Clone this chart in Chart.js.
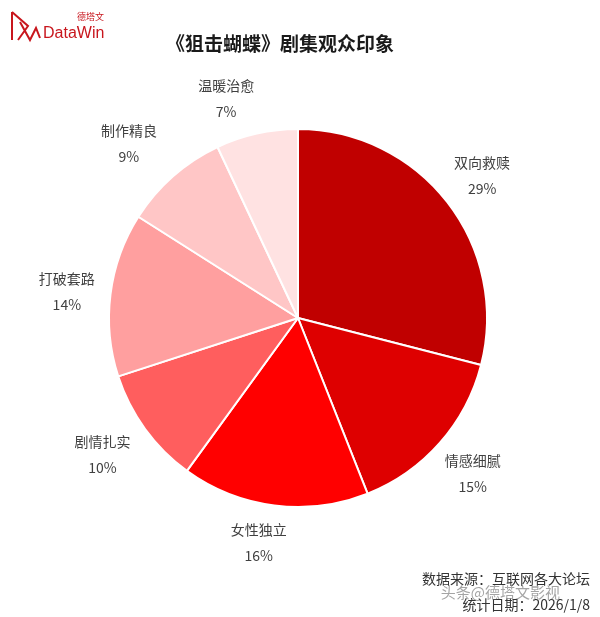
<!DOCTYPE html>
<html>
<head>
<meta charset="utf-8">
<script src="https://cdn.jsdelivr.net/npm/chart.js@4"></script>
<style>
  html, body { margin: 0; padding: 0; background: #fff; }
  #wrap { width: 600px; height: 617px; position: relative; }
</style>
</head>
<body>
<div id="wrap"><canvas id="chartImpresion" width="600" height="617"></canvas></div>
<script>
const categorias = ['双向救赎', '情感细腻', '女性独立', '剧情扎实', '打破套路', '制作精良', '温暖治愈'];
const porcentajes = [29, 15, 16, 10, 14, 9, 7];
const colores = ['#C00000', '#DE0000', '#FF0000', '#FF5E5E', '#FF9F9F', '#FFC6C6', '#FFE2E2'];
const titulo = '《狙击蝴蝶》剧集观众印象';
const fuente = '数据来源：互联网各大论坛';
const fecha = '统计日期：2026/1/8';

document.addEventListener('DOMContentLoaded', function() {

    const FONT = '"Noto Sans CJK SC", "Noto Sans", sans-serif';
    // pequeños ajustes de las etiquetas (px) para imitar la colocación original
    const ajustes = [[0, 0], [0, 2], [-10, -6], [-7, 0], [0, 3], [-15, 0], [-21, 8]];

    // etiquetas fuera de cada sector: nombre + porcentaje
    const etiquetas = {
        id: 'etiquetas',
        afterDatasetsDraw(chart) {
            const ctx = chart.ctx;
            const meta = chart.getDatasetMeta(0);
            ctx.save();
            ctx.fillStyle = '#404040';
            ctx.textAlign = 'center';
            ctx.textBaseline = 'middle';
            ctx.font = '14px ' + FONT;
            meta.data.forEach((arc, i) => {
                const p = arc.getProps(['x', 'y', 'startAngle', 'endAngle', 'outerRadius'], true);
                const mid = (p.startAngle + p.endAngle) / 2;
                const r = p.outerRadius + 44;
                const cx = p.x + Math.cos(mid) * r + ajustes[i][0];
                const cy = p.y + Math.sin(mid) * r + ajustes[i][1];
                ctx.fillText(categorias[i], cx, cy - 13);
                ctx.fillText(porcentajes[i] + '%', cx, cy + 13);
            });
            ctx.restore();
        }
    };

    const decoracion = {
        id: 'decoracion',
        afterDraw(chart) {
            const ctx = chart.ctx;
            ctx.save();
            // titulo
            ctx.fillStyle = '#1a1a1a';
            ctx.textAlign = 'center';
            ctx.textBaseline = 'middle';
            ctx.font = 'bold 19px ' + FONT;
            ctx.fillText(titulo, 280, 44);

            // logo
            ctx.strokeStyle = '#C8161D';
            ctx.lineWidth = 2;
            ctx.beginPath();
            ctx.moveTo(12, 12); ctx.lineTo(12, 40);
            ctx.moveTo(12, 12); ctx.lineTo(28, 26); ctx.lineTo(18, 40);
            ctx.moveTo(20, 22); ctx.lineTo(30, 40); ctx.lineTo(36, 28); ctx.lineTo(40, 38);
            ctx.stroke();
            ctx.fillStyle = '#C8161D';
            ctx.textAlign = 'left';
            ctx.font = '16px "Liberation Sans", Arial, sans-serif';
            ctx.fillText('DataWin', 43, 34);
            ctx.font = '9px ' + FONT;
            ctx.fillText('德塔文', 77, 17);

            // pie de fuente
            ctx.fillStyle = '#333';
            ctx.textAlign = 'right';
            ctx.font = '14px ' + FONT;
            ctx.fillText(fuente, 590, 579);
            ctx.fillText(fecha, 590, 605);
            ctx.fillStyle = 'rgba(90,90,90,0.55)';
            ctx.font = '15px ' + FONT;
            ctx.fillText('头条@德塔文影视', 560, 592);
            ctx.restore();
        }
    };

    const canvas = document.getElementById('chartImpresion');
    new Chart(canvas.getContext('2d'), {
        type: 'pie',
        data: {
            labels: categorias,
            datasets: [{
                data: porcentajes,
                backgroundColor: colores,
                borderColor: '#ffffff',
                borderWidth: 2
            }]
        },
        options: {
            responsive: false,
            animation: false,
            layout: { padding: { top: 128, bottom: 109, left: 108, right: 112 } },
            plugins: {
                legend: { display: false },
                tooltip: { enabled: false }
            }
        },
        plugins: [etiquetas, decoracion]
    });
});
</script>
</body>
</html>
